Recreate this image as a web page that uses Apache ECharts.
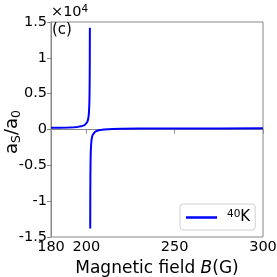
<!DOCTYPE html>
<html><head><meta charset="utf-8">
<script src="https://cdn.jsdelivr.net/npm/echarts@6/dist/echarts.min.js"></script>
<style>html,body{margin:0;padding:0;background:#fff}#c{width:277px;height:277px}</style>
</head><body><div id="c"></div>
<script>
// Magnetic field B (G)
const fieldG = [180, 185, 190, 193, 195, 197, 198, 199, 199.5, 200, 200.5, 201, 201.3, 201.5, 201.7, 201.8, 201.9, 201.95, 202.0,
  202.1,
  202.2, 202.25, 202.3, 202.4, 202.5, 202.7, 203, 203.5, 204, 205, 206, 207, 208, 210, 215, 220, 230, 250, 275, 300];
// a_S / a_0 in units of 10^4 (null = resonance gap)
const ratio = [0.0235, 0.0253, 0.0286, 0.0323, 0.0365, 0.044, 0.0505, 0.0612, 0.0696, 0.082, 0.102, 0.141, 0.187, 0.244, 0.357, 0.47, 0.696, 0.922, 1.42,
  null,
  -1.38, -0.887, -0.661, -0.435, -0.322, -0.209, -0.133, -0.0795, -0.054, -0.029, -0.0174, -0.010, -0.0056, 0.0002, 0.0069, 0.0098, 0.0125, 0.0146, 0.0155, 0.016];
const xTicks = [180, 200, 250, 300];
const yTicks = [-1.5, -1, -0.5, 0, 0.5, 1, 1.5];
const seriesName = '40K';

const FONT = 'DejaVu Sans';
const chart = echarts.init(document.getElementById('c'), null, {renderer: 'canvas'});
const data = fieldG.map((b, i) => [b, ratio[i] === null ? '-' : ratio[i]]);
const axisGray = '#888';
chart.setOption({
  animation: false,
  backgroundColor: '#fff',
  grid: {left: 51, right: 14, top: 22, bottom: 40, show: true, borderColor: axisGray, borderWidth: 1,
    containLabel: false, outerBoundsMode: 'none'},
  xAxis: {
    type: 'value', min: 180, max: 300, interval: 10,
    axisLine: {show: true, lineStyle: {color: axisGray, width: 1}},
    axisTick: {show: true, inside: false, length: 4, customValues: xTicks, lineStyle: {color: axisGray}},
    axisLabel: {customValues: xTicks, color: '#000', fontFamily: FONT, fontSize: 14.5, margin: 3},
    splitLine: {show: false},
    name: '{n|Magnetic field }{i|B}{n|(G)}', nameLocation: 'middle', nameGap: 21,
    nameTextStyle: {rich: {
      n: {fontFamily: FONT, fontSize: 17, color: '#000'},
      i: {fontFamily: FONT, fontSize: 17, fontStyle: 'italic', color: '#000'}
    }}
  },
  yAxis: {
    type: 'value', min: -1.5, max: 1.5, interval: 0.5,
    axisLine: {show: true, lineStyle: {color: axisGray, width: 1}},
    axisTick: {show: true, inside: false, length: 4, lineStyle: {color: axisGray}},
    axisLabel: {color: '#000', fontFamily: FONT, fontSize: 14.5, margin: 4,
      formatter: v => (yTicks.includes(v) ? String(v) : '')},
    splitLine: {show: false}
  },
  legend: {
    show: true, left: 180, top: 204, orient: 'vertical',
    padding: [5, 5, 5, 6], itemGap: 0,
    borderColor: '#d0d0d0', borderWidth: 1, borderRadius: 3,
    itemWidth: 31, itemHeight: 2.5, icon: 'rect',
    data: [{name: seriesName}],
    formatter: () => '{sup|40}{k|K}',
    textStyle: {rich: {
      sup: {fontFamily: FONT, fontSize: 10.5, color: '#000', verticalAlign: 'top', padding: [0, 0, 6, 5]},
      k: {fontFamily: FONT, fontSize: 15, color: '#000'}
    }}
  },
  graphic: [
    {type: 'text', left: 51, top: 4, style: {text: '×10{s|4}', fontFamily: FONT, fontSize: 14.5, fill: '#000',
      rich: {s: {fontFamily: FONT, fontSize: 10.5, fill: '#000', verticalAlign: 'top', padding: [0, 0, 6, 0]}}}},
    {type: 'text', left: 52, top: 23, style: {text: '(c)', fontFamily: FONT, fontSize: 15, fill: '#000'}},
    {type: 'text', x: 12, y: 132, rotation: Math.PI / 2,
      style: {text: '{i|a}{s|S}{n|/}{i|a}{s|0}', align: 'center', verticalAlign: 'middle',
        rich: {
          i: {fontFamily: FONT, fontSize: 18, fill: '#000'},
          n: {fontFamily: FONT, fontSize: 18, fill: '#000'},
          s: {fontFamily: FONT, fontSize: 12.5, fill: '#000', padding: [9, 0, 0, 0]}
        }}}
  ],
  series: [{
    name: seriesName, type: 'line', data: data, showSymbol: false, connectNulls: false,
    lineStyle: {color: '#0000ff', width: 2}, itemStyle: {color: '#0000ff'}, clip: true
  }]
});
</script></body></html>
